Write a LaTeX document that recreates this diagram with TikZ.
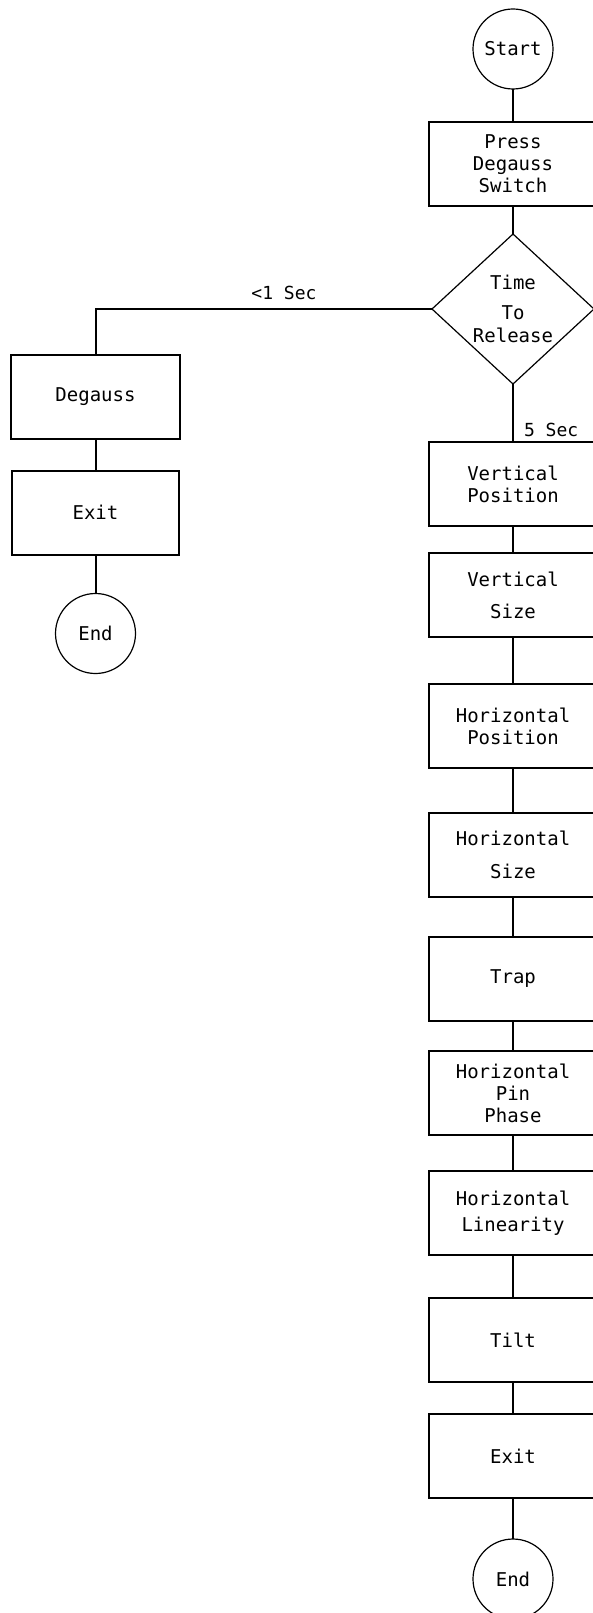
\documentclass[tikz,border=0pt]{standalone}
\usepackage{fontspec}
\setmainfont{DejaVu Sans Mono}
\usetikzlibrary{positioning,shapes.geometric}

\begin{document}
\begin{tikzpicture}[
    x=1pt, y=-1pt,
    font=\fontsize{19}{22}\selectfont,
    box/.style={
      rectangle, draw=black, line width=2pt, outer sep=0pt,
      minimum width=168pt, minimum height=84pt, inner sep=2pt,
      align=center
    },
    term/.style={
      circle, draw=black, line width=1.2pt, outer sep=0pt,
      minimum size=80pt, inner sep=0pt
    },
    decision/.style={
      diamond, draw=black, line width=1.2pt, outer sep=0pt,
      minimum width=162pt, minimum height=150pt, inner sep=0pt,
      align=center
    },
    conn/.style={line width=2pt},
    lbl/.style={font=\fontsize{18}{20}\selectfont, inner sep=2pt},
  ]
  \useasboundingbox (0,0) rectangle (592,1613);

  %% Main column
  \node[term] (start) at (513,49) {Start};
  \node[box, below=33pt of start] (press) {Press\\Degauss\\Switch};
  \node[decision, below=28pt of press] (dia) {Time\\[8pt]To\\[1pt]Release};
  \node[box, below=58pt of dia] (vpos) {Vertical\\Position};
  \node[box, below=27pt of vpos] (vsize) {Vertical\\[10pt]Size};
  \node[box, below=47pt of vsize] (hpos) {Horizontal\\Position};
  \node[box, below=45pt of hpos] (hsize) {Horizontal\\[11pt]Size};
  \node[box, below=40pt of hsize] (trap) {Trap};
  \node[box, below=30pt of trap] (hpin) {Horizontal\\Pin\\Phase};
  \node[box, below=36pt of hpin] (hlin) {Horizontal\\[4pt]Linearity};
  \node[box, below=43pt of hlin] (tilt) {Tilt};
  \node[box, below=32pt of tilt] (exit) {Exit};
  \node[term, below=41pt of exit] (end) {End};

  %% Short branch
  \node[box, minimum width=169pt] (degauss) at (95.5,396.5) {Degauss};
  \node[box, minimum width=167pt, below=32pt of degauss] (exitL) {Exit};
  \node[term, below=39pt of exitL] (endL) {End};

  %% Connectors
  \draw[conn] (start) -- (press);
  \draw[conn] (press) -- (dia);
  \draw[conn] (dia.south) -- node[lbl, right, pos=0.8, xshift=8pt] {5 Sec} (vpos.north);
  \draw[conn] (vpos) -- (vsize);
  \draw[conn] (vsize) -- (hpos);
  \draw[conn] (hpos) -- (hsize);
  \draw[conn] (hsize) -- (trap);
  \draw[conn] (trap) -- (hpin);
  \draw[conn] (hpin) -- (hlin);
  \draw[conn] (hlin) -- (tilt);
  \draw[conn] (tilt) -- (exit);
  \draw[conn] (exit) -- (end);

  \draw[conn] (dia.west) -| node[lbl, pos=0.22, above, yshift=6pt] {<1 Sec} (degauss.north);
  \draw[conn] (degauss) -- (exitL);
  \draw[conn] (exitL) -- (endL);

\end{tikzpicture}
\end{document}
